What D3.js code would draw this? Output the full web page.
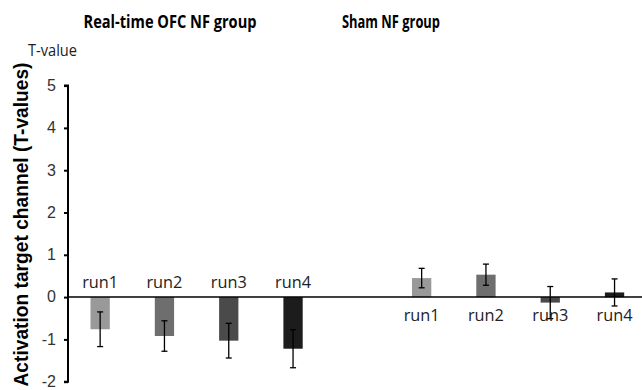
<!DOCTYPE html>
<html>
<head>
<meta charset="utf-8">
<script src="https://cdn.jsdelivr.net/npm/d3@7"></script>
<style>
  body { margin: 0; background: #fff; }
</style>
</head>
<body>
<svg id="mainsvg" width="642" height="390"></svg>
<script>
// data
const runs = ['run1', 'run2', 'run3', 'run4'];
const realValues = [-0.76, -0.92, -1.03, -1.22];
const realErrors = [0.41, 0.36, 0.41, 0.45];
const shamValues = [0.45, 0.53, -0.13, 0.11];
const shamErrors = [0.23, 0.25, 0.38, 0.32];
const barColors = ['#999999', '#6e6e6e', '#4a4a4a', '#1c1c1c'];
const yTicks = [-2, -1, 0, 1, 2, 3, 4, 5];

(function () {
  const svg = d3.select('#mainsvg');
  const axisX = 68;
  const sans = '"Liberation Sans", Arial, sans-serif';
  const yahei = '"Open Sans", "Noto Sans", sans-serif';

  // 9 slots: 4 real runs, one gap, 4 sham runs
  const slots = runs.map(r => 'real-' + r).concat(['gap'], runs.map(r => 'sham-' + r));
  const xScale = d3.scaleBand().domain(slots).range([axisX, axisX + 64.3 * 9]).paddingInner(0.7).paddingOuter(0.35);

  const yScale = d3.scaleLinear().domain([-2, 5]).range([381.7, 85.6]);

  const bars = [];
  runs.forEach((r, i) => {
    bars.push({ key: 'real-' + r, label: r, value: realValues[i], err: realErrors[i], color: barColors[i], below: false });
  });
  runs.forEach((r, i) => {
    bars.push({ key: 'sham-' + r, label: r, value: shamValues[i], err: shamErrors[i], color: barColors[i], below: true });
  });

  const g = svg.append('g');
  const bw = xScale.bandwidth();

  bars.forEach(d => {
    g.append('rect')
      .attr('x', xScale(d.key))
      .attr('width', bw)
      .attr('y', yScale(Math.max(0, d.value)))
      .attr('height', Math.abs(yScale(d.value) - yScale(0)))
      .attr('fill', d.color);
  });

  // zero line
  g.append('line')
    .attr('x1', axisX).attr('x2', 642)
    .attr('y1', yScale(0)).attr('y2', yScale(0))
    .attr('stroke', '#000').attr('stroke-width', 1.5);

  // error bars
  bars.forEach(d => {
    const cx = xScale(d.key) + bw / 2;
    const top = yScale(d.value + d.err), bot = yScale(d.value - d.err);
    const eg = g.append('g').attr('stroke', '#000').attr('stroke-width', 1.3);
    eg.append('line').attr('x1', cx).attr('x2', cx).attr('y1', top).attr('y2', bot);
    eg.append('line').attr('x1', cx - 3).attr('x2', cx + 3).attr('y1', top).attr('y2', top);
    eg.append('line').attr('x1', cx - 3).attr('x2', cx + 3).attr('y1', bot).attr('y2', bot);
  });

  // run labels
  bars.forEach(d => {
    g.append('text')
      .attr('x', xScale(d.key) + bw / 2)
      .attr('y', d.below ? yScale(0) + 24 : yScale(0) - 9)
      .attr('text-anchor', 'middle')
      .style('font-family', yahei)
      .style('font-size', '16.5px')
      .attr('fill', '#222')
      .attr('textLength', 36)
      .attr('lengthAdjust', 'spacingAndGlyphs')
      .text(d.label);
  });

  // y axis
  const yAxis = d3.axisLeft(yScale).tickValues(yTicks).tickSize(4).tickPadding(8).tickFormat(d3.format('d'));
  const ya = svg.append('g').attr('transform', `translate(${axisX},0)`).call(yAxis);
  ya.select('.domain').attr('stroke-width', 2).attr('d', `M-4,${yScale(5)}H0V${yScale(-2)}H-4`);
  ya.selectAll('.tick line').attr('stroke-width', 2);
  ya.selectAll('.tick text')
    .style('font-family', sans).style('font-size', '16px')
    .attr('fill', '#333').attr('dy', '0.3em')
    .text(d => d < 0 ? '-' + Math.abs(d) : d);

  // axis title
  svg.append('text')
    .attr('transform', 'translate(28,224.5) rotate(-90)')
    .attr('text-anchor', 'middle')
    .style('font-family', sans)
    .style('font-size', '21px')
    .style('font-weight', 'bold')
    .attr('textLength', 324)
    .attr('lengthAdjust', 'spacingAndGlyphs')
    .text('Activation target channel (T-values)');

  svg.append('text')
    .attr('x', 28).attr('y', 56)
    .style('font-family', yahei)
    .style('font-size', '16.5px')
    .attr('fill', '#222')
    .attr('textLength', 49)
    .attr('lengthAdjust', 'spacingAndGlyphs')
    .text('T-value');

  // group titles
  svg.append('text')
    .attr('x', 170).attr('y', 28)
    .attr('text-anchor', 'middle')
    .style('font-family', yahei)
    .style('font-size', '17.5px')
    .style('font-weight', 'bold')
    .attr('textLength', 173)
    .attr('lengthAdjust', 'spacingAndGlyphs')
    .text('Real-time OFC NF group');
  svg.append('text')
    .attr('x', 391).attr('y', 28)
    .attr('text-anchor', 'middle')
    .style('font-family', yahei)
    .style('font-size', '17.5px')
    .style('font-weight', 'bold')
    .attr('textLength', 98)
    .attr('lengthAdjust', 'spacingAndGlyphs')
    .text('Sham NF group');
})();
</script>
</body>
</html>
